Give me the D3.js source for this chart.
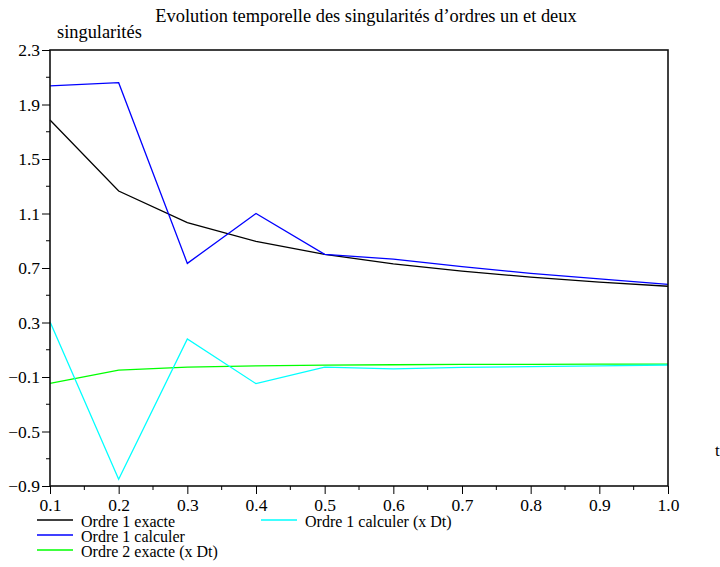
<!DOCTYPE html>
<html>
<head>
<meta charset="utf-8">
<script src="https://cdn.jsdelivr.net/npm/d3@7"></script>
<style>
  body { margin: 0; background: #fff; }
  .tick text { font-size: 17.5px; fill: #000; }
</style>
</head>
<body>
<div id="chart"></div>
<script>
// --- données ---
const tValues = [0.1, 0.2, 0.3, 0.4, 0.5, 0.6, 0.7, 0.8, 0.9, 1.0];
const ordre1Exacte = [1.786, 1.265, 1.033, 0.895, 0.800, 0.731, 0.677, 0.633, 0.597, 0.566];
const ordre1Calculer = [2.036, 2.060, 0.734, 1.100, 0.800, 0.765, 0.710, 0.660, 0.620, 0.580];
const ordre2Exacte = [-0.146, -0.050, -0.028, -0.018, -0.013, -0.010, -0.008, -0.007, -0.006, -0.005];
const ordre1CalculerDt = [0.306, -0.851, 0.179, -0.149, -0.027, -0.040, -0.030, -0.024, -0.018, -0.012];
const yTicks = [-0.9, -0.5, -0.1, 0.3, 0.7, 1.1, 1.5, 1.9, 2.3];
const xTicks = [0.1, 0.2, 0.3, 0.4, 0.5, 0.6, 0.7, 0.8, 0.9, 1.0];

const series = [
    { name: "Ordre 1 exacte", values: ordre1Exacte, color: "#000000" },
    { name: "Ordre 1 calculer", values: ordre1Calculer, color: "#0000ff" },
    { name: "Ordre 2 exacte (x Dt)", values: ordre2Exacte, color: "#00ff00" },
    { name: "Ordre 1 calculer (x Dt)", values: ordre1CalculerDt, color: "#00ffff" }
];

const serif = "'Liberation Serif', 'Times New Roman', Times, serif";
const width = 720, height = 567;
const margin = { top: 50, right: 52, bottom: 81, left: 50 };

const svg = d3.select("#chart").append("svg")
    .attr("width", width)
    .attr("height", height)
    .style("font-family", serif);

const x = d3.scaleLinear().domain([0.1, 1.0]).range([margin.left, width - margin.right]);
const y = d3.scaleLinear().domain([-0.9, 2.3]).range([height - margin.bottom, margin.top]);

const fmt = v => d3.format(".1f")(v).replace("-", "\u2212");

// graduations secondaires
const yMinor = d3.range(-0.9, 2.31, 0.2).filter(v => !yTicks.some(t => Math.abs(t - v) < 1e-6));
const xMinor = d3.range(0.15, 1.0, 0.1);

// --- séries ---
const line = d3.line().x((d, i) => x(tValues[i])).y(d => y(d));
svg.append("g").selectAll("path")
    .data(series)
    .enter().append("path")
    .attr("d", d => line(d.values))
    .attr("fill", "none")
    .attr("stroke", d => d.color)
    .attr("stroke-width", 1.3);

// --- cadre ---
svg.append("rect")
    .attr("x", margin.left)
    .attr("y", margin.top)
    .attr("width", width - margin.left - margin.right)
    .attr("height", height - margin.top - margin.bottom)
    .attr("fill", "none")
    .attr("stroke", "#111")
    .attr("stroke-width", 1.6);

// --- axe Y ---
const yAxis = svg.append("g")
    .attr("transform", `translate(${margin.left},0)`)
    .call(d3.axisLeft(y).tickValues(yTicks).tickFormat(fmt).tickSize(8).tickPadding(2));
yAxis.select(".domain").remove();

svg.append("g")
    .selectAll("line")
    .data(yMinor)
    .enter().append("line")
    .attr("x1", margin.left - 4)
    .attr("x2", margin.left)
    .attr("y1", d => y(d))
    .attr("y2", d => y(d))
    .attr("stroke", "#000");

// --- axe X ---
const xAxis = svg.append("g")
    .attr("transform", `translate(0,${height - margin.bottom})`)
    .call(d3.axisBottom(x).tickValues(xTicks).tickFormat(d3.format(".1f")).tickSize(8).tickPadding(5));
xAxis.select(".domain").remove();

svg.selectAll(".tick text").style("font-family", serif);

svg.append("g")
    .selectAll("line")
    .data(xMinor)
    .enter().append("line")
    .attr("x1", d => x(d))
    .attr("x2", d => x(d))
    .attr("y1", height - margin.bottom)
    .attr("y2", height - margin.bottom + 4)
    .attr("stroke", "#000");

// --- titres ---
svg.append("text")
    .attr("x", 366)
    .attr("y", 22)
    .attr("text-anchor", "middle")
    .style("font-family", serif)
    .style("font-size", "18.4px")
    .text("Evolution temporelle des singularités d\u2019ordres un et deux");

svg.append("text")
    .attr("x", 57)
    .attr("y", 38)
    .style("font-family", serif)
    .style("font-size", "18.4px")
    .text("singularités");

svg.append("text")
    .attr("x", 715)
    .attr("y", 456)
    .style("font-family", serif)
    .style("font-size", "17px")
    .text("t");

// --- légende ---
const legendPos = [
    { x: 37, y: 520 },
    { x: 37, y: 535 },
    { x: 37, y: 550 },
    { x: 261, y: 520 }
];
const legend = svg.append("g").selectAll("g")
    .data(series)
    .enter().append("g")
    .attr("transform", (d, i) => `translate(${legendPos[i].x},${legendPos[i].y})`);

legend.append("line")
    .attr("x1", 0).attr("x2", 36)
    .attr("y1", 0).attr("y2", 0)
    .attr("stroke", d => d.color)
    .attr("stroke-width", 1.5);

legend.append("text")
    .attr("x", 44)
    .attr("y", 7)
    .style("font-family", serif)
    .style("font-size", "16px")
    .text(d => d.name);
</script>
</body>
</html>
